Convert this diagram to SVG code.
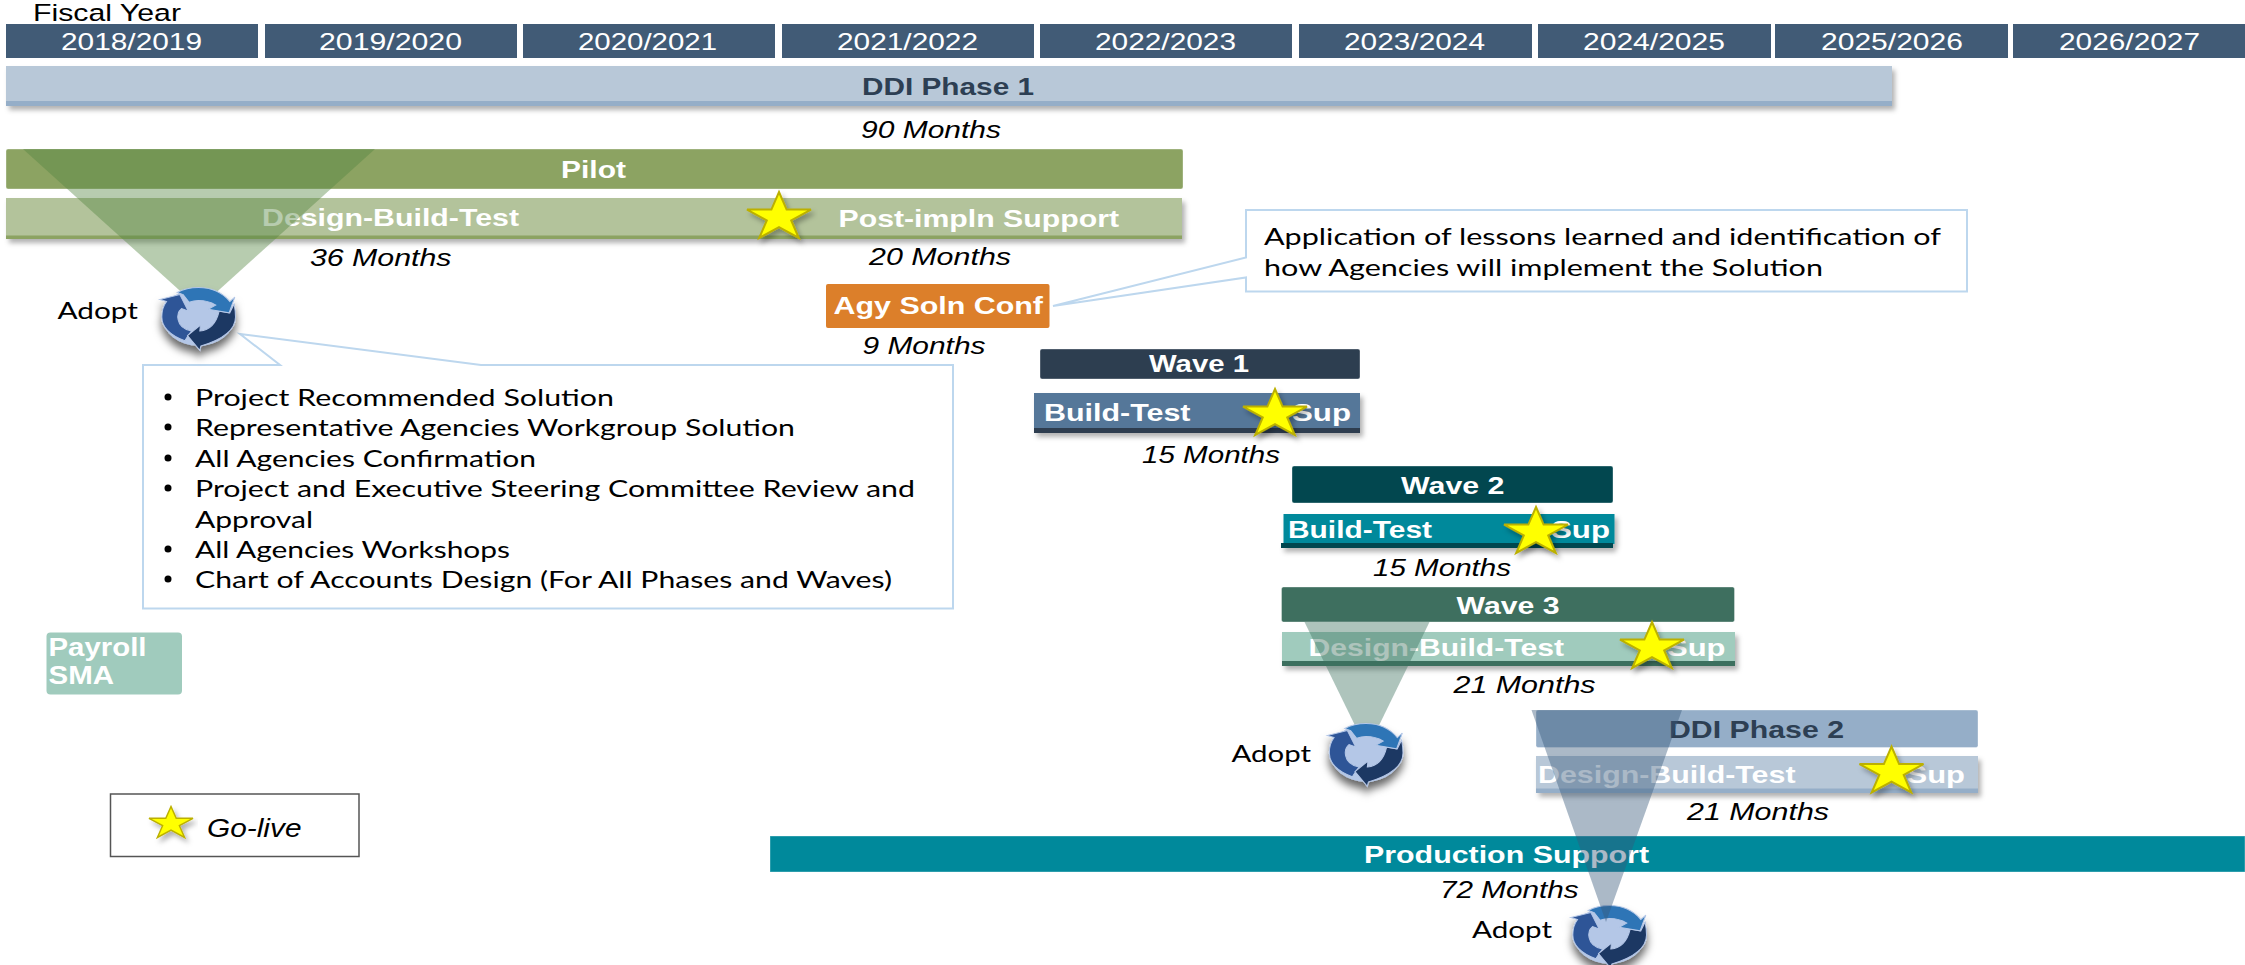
<svg xmlns="http://www.w3.org/2000/svg" width="2245" height="965" viewBox="0 0 2245 965">
<style>
text{font-family:"Liberation Sans",Arial,sans-serif;font-size:24.500px;fill:#000}
.b{font-weight:700;fill:#fff}
.dk{font-weight:700;fill:#2d3f53}
.m{font-style:italic}
.h{fill:#fff}
.c{font-family:Lato,"Open Sans",sans-serif;font-size:24px}
.hd{fill:#415b76}
.bar{stroke:#fff;stroke-opacity:.35;stroke-width:1}
.sh{filter:url(#ds)}
.call{fill:#fff;stroke:#bdd7ee;stroke-width:2}
.star{fill:#ff0;stroke:#bcb000;stroke-width:2;stroke-linejoin:miter}
</style>
<defs>
<filter id="ds" x="-10%" y="-30%" width="120%" height="170%"><feDropShadow dx="3" dy="4" stdDeviation="2.500" flood-color="#000" flood-opacity=".3"/></filter>
<filter id="dsi" x="-30%" y="-30%" width="160%" height="170%"><feDropShadow dx="0" dy="7" stdDeviation="4" flood-color="#000" flood-opacity=".6"/></filter>
<polygon id="star" class="star" points="32,0 39.600,17.600 64,17.600 44.200,28.400 51.800,46 32,35.100 12.200,46 19.800,28.400 0,17.600 24.400,17.600"/>
<g id="icon" transform="scale(.3333 .35) translate(-236 -172)">
<ellipse cx="236" cy="172" rx="108" ry="82" fill="#b4c7e7"/>
<g stroke="#b4c7e7" stroke-width="3" stroke-linejoin="miter">
<path fill="#2f5597" d="M120,122 L180,108 L205,155 L185,148 Q170,160 175,180 Q180,205 215,212 L205,225 L195,240 Q126,215 126,172 Q126,145 140,128 Z"/>
<path fill="#1f3864" d="M330,160 L343,135 Q347,155 347,172 Q347,225 243,255 L240,267 L203,225 L242,195 L240,212 Q285,208 298,155 Z"/>
<path fill="#2e75b6" d="M172,102 Q200,88 236,88 Q295,88 330,128 L345,115 L328,160 L265,150 L288,138 Q265,125 236,125 Q222,125 208,130 L190,108 Z"/>
</g>
</g>
</defs>
<rect width="2245" height="965" fill="#fff"/>

<g id="timeline">
<text x="33" y="21" textLength="148" lengthAdjust="spacingAndGlyphs">Fiscal Year</text>
<rect class="hd" x="6" y="24" width="252" height="34"/><text class="h" x="61" y="50" textLength="141" lengthAdjust="spacingAndGlyphs">2018/2019</text>
<rect class="hd" x="265" y="24" width="252" height="34"/><text class="h" x="319" y="50" textLength="143" lengthAdjust="spacingAndGlyphs">2019/2020</text>
<rect class="hd" x="523" y="24" width="252" height="34"/><text class="h" x="578" y="50" textLength="139" lengthAdjust="spacingAndGlyphs">2020/2021</text>
<rect class="hd" x="782" y="24" width="252" height="34"/><text class="h" x="837" y="50" textLength="141" lengthAdjust="spacingAndGlyphs">2021/2022</text>
<rect class="hd" x="1040" y="24" width="252" height="34"/><text class="h" x="1095" y="50" textLength="141" lengthAdjust="spacingAndGlyphs">2022/2023</text>
<rect class="hd" x="1299" y="24" width="233" height="34"/><text class="h" x="1344" y="50" textLength="141" lengthAdjust="spacingAndGlyphs">2023/2024</text>
<rect class="hd" x="1538" y="24" width="233" height="34"/><text class="h" x="1583" y="50" textLength="142" lengthAdjust="spacingAndGlyphs">2024/2025</text>
<rect class="hd" x="1775" y="24" width="233" height="34"/><text class="h" x="1821" y="50" textLength="142" lengthAdjust="spacingAndGlyphs">2025/2026</text>
<rect class="hd" x="2013" y="24" width="232" height="34"/><text class="h" x="2059" y="50" textLength="141" lengthAdjust="spacingAndGlyphs">2026/2027</text>
</g>

<g id="ddi-phase-1">
<g class="sh"><rect x="6" y="66" width="1886" height="40" fill="#b8c8d8"/><rect x="6" y="101" width="1886" height="5" fill="#95aec8"/></g>
<text class="dk" x="862" y="95" textLength="172" lengthAdjust="spacingAndGlyphs">DDI Phase 1</text>
<text class="m" x="861" y="138" textLength="140" lengthAdjust="spacingAndGlyphs">90 Months</text>
</g>

<g id="pilot">
<rect class="bar" x="6" y="149" width="1177" height="40" rx="2" fill="#8ca362"/>
<text class="b" x="561" y="178" textLength="65" lengthAdjust="spacingAndGlyphs">Pilot</text>
<g class="sh"><rect x="6" y="198" width="1176" height="41" fill="#b3c39b"/><rect x="6" y="235.500" width="1176" height="3.500" fill="#8ca362"/></g>
<text class="b" x="262" y="226" textLength="257" lengthAdjust="spacingAndGlyphs">Design-Build-Test</text>
<text class="b" x="838.500" y="226.500" textLength="280.500" lengthAdjust="spacingAndGlyphs">Post-impln Support</text>
<use class="sh" href="#star" x="747" y="192"/>
<text class="m" x="310" y="266" textLength="141.500" lengthAdjust="spacingAndGlyphs">36 Months</text>
<text class="m" x="869" y="265" textLength="142" lengthAdjust="spacingAndGlyphs">20 Months</text>
</g>

<g id="agy-soln-conf">
<rect x="826" y="284" width="223.500" height="44" rx="2" fill="#dc7f2a"/>
<text class="b" x="833.500" y="314" textLength="209.500" lengthAdjust="spacingAndGlyphs">Agy Soln Conf</text>
<text class="m" x="862.500" y="354" textLength="123" lengthAdjust="spacingAndGlyphs">9 Months</text>
</g>

<g id="callout-agy">
<path class="call" d="M1246,210 H1967 V291.500 H1246 V277.500 L1053,306 L1246,257.500 Z"/>
<text class="c" x="1264" y="245" textLength="677" lengthAdjust="spacingAndGlyphs">Application of lessons learned and identification of</text>
<text class="c" x="1264" y="276" textLength="559" lengthAdjust="spacingAndGlyphs">how Agencies will implement the Solution</text>
</g>

<g id="callout-adopt">
<path class="call" d="M143,365 H280 L240,334 L481,365 H953 V608.500 H143 Z"/>
<g fill="#000"><ellipse cx="168" cy="397" rx="3.500" ry="3.500"/><ellipse cx="168" cy="427" rx="3.500" ry="3.500"/><ellipse cx="168" cy="458" rx="3.500" ry="3.500"/><ellipse cx="168" cy="488" rx="3.500" ry="3.500"/><ellipse cx="168" cy="549" rx="3.500" ry="3.500"/><ellipse cx="168" cy="579" rx="3.500" ry="3.500"/></g>
<text class="c" x="195" y="406" textLength="419" lengthAdjust="spacingAndGlyphs">Project Recommended Solution</text>
<text class="c" x="195" y="436" textLength="600" lengthAdjust="spacingAndGlyphs">Representative Agencies Workgroup Solution</text>
<text class="c" x="195" y="467" textLength="341" lengthAdjust="spacingAndGlyphs">All Agencies Confirmation</text>
<text class="c" x="195" y="497" textLength="720" lengthAdjust="spacingAndGlyphs">Project and Executive Steering Committee Review and</text>
<text class="c" x="195" y="528" textLength="118" lengthAdjust="spacingAndGlyphs">Approval</text>
<text class="c" x="195" y="558" textLength="315" lengthAdjust="spacingAndGlyphs">All Agencies Workshops</text>
<text class="c" x="195" y="588" textLength="697" lengthAdjust="spacingAndGlyphs">Chart of Accounts Design (For All Phases and Waves)</text>
</g>

<g id="wave-1">
<rect class="bar" x="1040" y="349" width="320" height="30" rx="2" fill="#2d3e50"/>
<text class="b" x="1149" y="372" textLength="100" lengthAdjust="spacingAndGlyphs">Wave 1</text>
<g class="sh"><rect x="1034" y="393" width="326" height="40" fill="#557799"/><rect x="1034" y="428" width="326" height="5" fill="#2d3e50"/></g>
<text class="b" x="1044" y="421" textLength="146.500" lengthAdjust="spacingAndGlyphs">Build-Test</text>
<text class="b" x="1292" y="421" textLength="59" lengthAdjust="spacingAndGlyphs">Sup</text>
<use class="sh" href="#star" x="1243" y="389"/>
<text class="m" x="1142" y="463" textLength="138" lengthAdjust="spacingAndGlyphs">15 Months</text>
</g>

<g id="wave-2">
<rect class="bar" x="1292" y="466" width="321" height="37" rx="2" fill="#02474f"/>
<text class="b" x="1401" y="494" textLength="103.500" lengthAdjust="spacingAndGlyphs">Wave 2</text>
<g class="sh"><rect x="1283.500" y="514" width="331" height="30" fill="#00899b"/><rect x="1281" y="543" width="332" height="5" fill="#02474f"/></g>
<text class="b" x="1288" y="538" textLength="144" lengthAdjust="spacingAndGlyphs">Build-Test</text>
<text class="b" x="1551" y="538" textLength="59" lengthAdjust="spacingAndGlyphs">Sup</text>
<use class="sh" href="#star" x="1504" y="507"/>
<text class="m" x="1373" y="576" textLength="138" lengthAdjust="spacingAndGlyphs">15 Months</text>
</g>

<g id="wave-3">
<rect class="bar" x="1281.500" y="587" width="453" height="35" rx="2" fill="#3e6f5f"/>
<text class="b" x="1456.500" y="614" textLength="103" lengthAdjust="spacingAndGlyphs">Wave 3</text>
<g class="sh"><rect x="1282" y="632" width="453" height="34" fill="#a0cbbd"/><rect x="1282" y="661" width="453" height="5" fill="#3e6f5f"/></g>
<text class="b" x="1308.500" y="656" textLength="255.500" lengthAdjust="spacingAndGlyphs">Design-Build-Test</text>
<text class="b" x="1667" y="656" textLength="58.500" lengthAdjust="spacingAndGlyphs">Sup</text>
<use class="sh" href="#star" x="1620" y="622"/>
<text class="m" x="1453.500" y="693" textLength="142" lengthAdjust="spacingAndGlyphs">21 Months</text>
</g>

<g id="ddi-phase-2">
<rect class="bar" x="1536" y="710" width="442" height="37.500" rx="2" fill="#95aec8"/>
<text class="dk" x="1669" y="737.500" textLength="175" lengthAdjust="spacingAndGlyphs">DDI Phase 2</text>
<g class="sh"><rect x="1536" y="756" width="442" height="37" fill="#b8c8d8"/><rect x="1536" y="788.500" width="442" height="4.500" fill="#95aec8"/></g>
<text class="b" x="1538" y="782.500" textLength="257.500" lengthAdjust="spacingAndGlyphs">Design-Build-Test</text>
<text class="b" x="1906.500" y="782.500" textLength="58.500" lengthAdjust="spacingAndGlyphs">Sup</text>
<use class="sh" href="#star" x="1859.500" y="746.500"/>
<text class="m" x="1687" y="820" textLength="142" lengthAdjust="spacingAndGlyphs">21 Months</text>
</g>

<g id="production-support">
<rect class="bar" x="770" y="836" width="1475" height="36" fill="#00899b"/>
<text class="b" x="1364" y="863" textLength="285" lengthAdjust="spacingAndGlyphs">Production Support</text>
<text class="m" x="1440" y="898" textLength="138.500" lengthAdjust="spacingAndGlyphs">72 Months</text>
</g>

<g id="payroll-sma">
<rect x="46.500" y="632.500" width="135.500" height="62" rx="4" fill="#a0cbbd"/>
<text class="b" x="48.500" y="656" textLength="98" lengthAdjust="spacingAndGlyphs" style="font-size:26px">Payroll</text>
<text class="b" x="48.500" y="684" textLength="65.500" lengthAdjust="spacingAndGlyphs" style="font-size:26px">SMA</text>
</g>

<g id="legend">
<rect x="110.500" y="794" width="248.500" height="62.500" fill="#fff" stroke="#555" stroke-width="1.500"/>
<polygon class="sh star" style="stroke-width:1.500" points="171,806.500 176.200,818.300 193,818.300 179.400,825.700 184.600,837.500 171,830.200 157.400,837.500 162.600,825.700 149,818.300 165.800,818.300"/>
<text class="m" x="207" y="836.500" textLength="94.500" lengthAdjust="spacingAndGlyphs" style="font-size:25px">Go-live</text>
</g>

<g id="adopt-3">
<text class="c" x="1472" y="937.500" textLength="80" lengthAdjust="spacingAndGlyphs">Adopt</text>
<g style="filter:url(#dsi)"><use href="#icon" x="1609.500" y="935"/></g>
</g>

<g id="connectors">
<polygon points="23,149 375,149 199,308" fill="#548641" fill-opacity=".42"/>
<polygon points="1304.500,622 1429.500,622 1367,750" fill="#3e725f" fill-opacity=".42"/>
<polygon points="1531.500,710 1682,710 1606,922" fill="#36587a" fill-opacity=".42"/>
</g>

<g id="adopt-1">
<text class="c" x="57.500" y="319" textLength="80.500" lengthAdjust="spacingAndGlyphs">Adopt</text>
<g style="filter:url(#dsi)"><use href="#icon" x="198.500" y="317"/></g>
</g>

<g id="adopt-2">
<text class="c" x="1231.500" y="762" textLength="79.500" lengthAdjust="spacingAndGlyphs">Adopt</text>
<g style="filter:url(#dsi)"><use href="#icon" x="1366" y="753"/></g>
</g>
</svg>
